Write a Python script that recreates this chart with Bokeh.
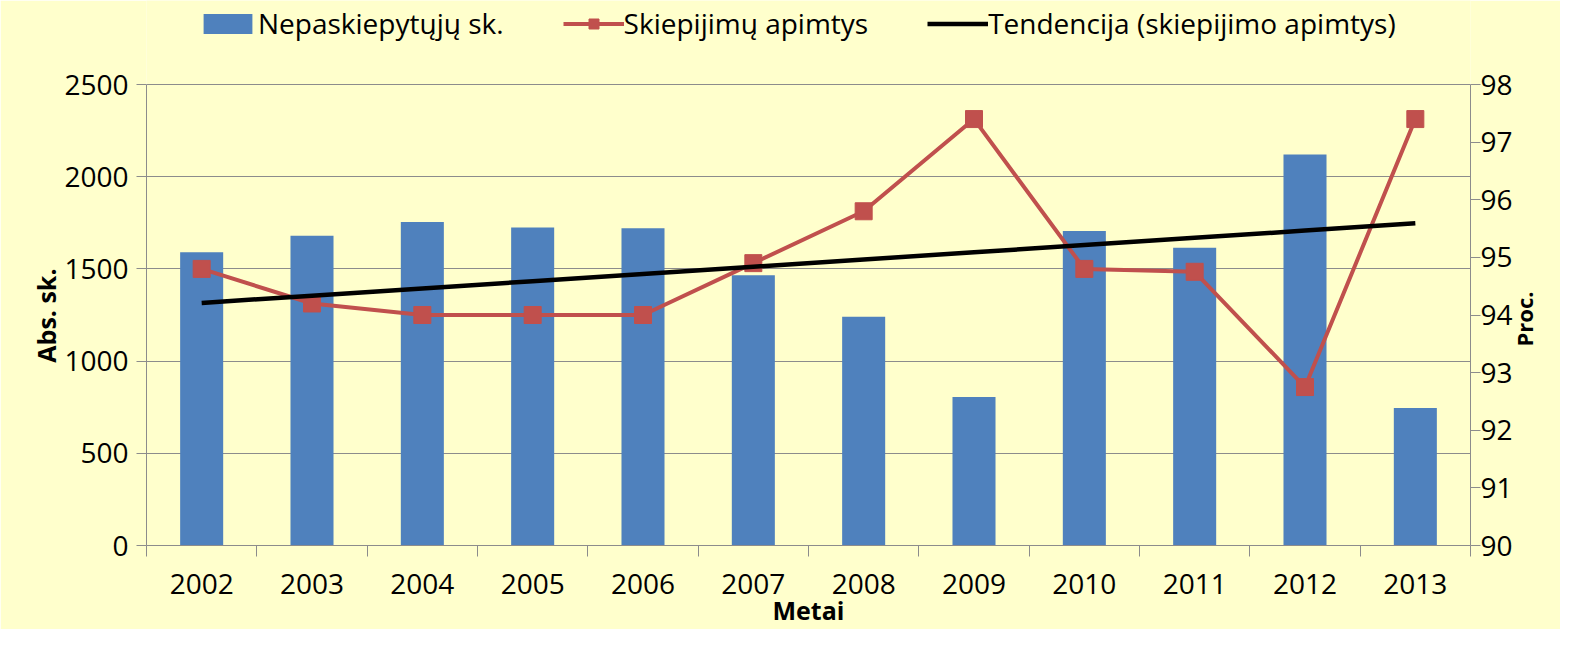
import math
import numpy as np
from bokeh.plotting import figure
from bokeh.models import Range1d, LinearAxis, FixedTicker, Legend, LegendItem
from bokeh.embed import file_html
from bokeh.resources import INLINE

# ---- data ----
years = [2002, 2003, 2004, 2005, 2006, 2007, 2008, 2009, 2010, 2011, 2012, 2013]
unvaccinated = [1590, 1680, 1755, 1725, 1720, 1465, 1240, 805, 1705, 1615, 2120, 745]
coverage = [94.8, 94.2, 94.0, 94.0, 94.0, 94.9, 95.8, 97.4, 94.8, 94.75, 92.75, 97.4]
year_labels = [str(y) for y in years]
left_ticks = [0, 500, 1000, 1500, 2000, 2500]
right_ticks = [90, 91, 92, 93, 94, 95, 96, 97, 98]

series_names = ["Nepaskiepytųjų sk.", "Skiepijimų apimtys", "Tendencija (skiepijimo apimtys)"]
x_title = "Metai"
left_title = "Abs. sk."
right_title = "Proc."

# linear trend of coverage (as the spreadsheet trendline)
coef = np.polyfit(years, coverage, 1)
trend = np.polyval(coef, years)

BG = "#FFFFCC"
GRID = "#8C8C8C"
FONT = "Open Sans"

# ---- layout (pixels) ----
W, H = 1560, 629
B_LEFT, B_RIGHT, B_BOTTOM = 146, 90, 84
FRAME_W = W - B_LEFT - B_RIGHT
FRAME_H = H - B_BOTTOM
TOP_GAP = 84                      # band above the value axes that holds the legend
ext = FRAME_H / (FRAME_H - TOP_GAP)

lmin, lmax = left_ticks[0], left_ticks[-1]
rmin, rmax = right_ticks[0], right_ticks[-1]
x0, x1 = years[0] - 0.5, years[-1] + 0.5
y_end = lmin + (lmax - lmin) * ext
r_end = rmin + (rmax - rmin) * ext

px_l = FRAME_H / (y_end - lmin)   # pixels per left unit
px_r = FRAME_H / (r_end - rmin)   # pixels per right unit

# anchors of the rotated side titles (screen px from the top of the figure)
LEFT_TITLE_Y = 268
RIGHT_TITLE_Y = 346

p = figure(width=W, height=H, output_backend="svg", toolbar_location=None,
           x_range=Range1d(x0, x1), y_range=Range1d(lmin, y_end),
           background_fill_color=BG, border_fill_color=BG, outline_line_color=None,
           min_border_left=B_LEFT, min_border_right=B_RIGHT, min_border_top=0,
           min_border_bottom=B_BOTTOM)
p.extra_y_ranges = {"pct": Range1d(rmin, r_end)}

p.xgrid.grid_line_color = None
p.ygrid.grid_line_color = GRID
p.ygrid.grid_line_width = 1

bars = p.vbar(x=years, top=unvaccinated, width=0.39, fill_color="#4F81BD", line_color=None)
ln = p.line(years, coverage, y_range_name="pct", line_color="#C0504D", line_width=4)
sq = p.scatter(years, coverage, y_range_name="pct", marker="square", size=17,
               fill_color="#C0504D", line_color="#C0504D")
tr = p.line(years, trend, y_range_name="pct", line_color="black", line_width=4.5)

# x axis
xa = p.xaxis[0]
xa.ticker = FixedTicker(ticks=years, minor_ticks=[y - 0.5 for y in years] + [years[-1] + 0.5])
xa.major_label_overrides = {y: l for y, l in zip(years, year_labels)}
xa.major_tick_out = 0
xa.major_tick_in = 0
xa.minor_tick_out = 11
xa.minor_tick_in = 0
xa.minor_tick_line_color = GRID
xa.axis_line_color = GRID
xa.major_label_text_font = FONT
xa.major_label_text_font_size = "28px"
xa.major_label_text_color = "black"
xa.major_label_standoff = 17
xa.axis_label = x_title
xa.axis_label_text_font = FONT
xa.axis_label_text_font_style = "bold"
xa.axis_label_text_font_size = "25px"
xa.axis_label_text_color = "black"
xa.axis_label_standoff = -4


def style_value_axis(ax, standoff):
    ax.major_tick_out = 10
    ax.major_tick_in = 0
    ax.minor_tick_out = 0
    ax.minor_tick_in = 0
    ax.major_tick_line_color = GRID
    ax.axis_line_color = GRID
    ax.major_label_text_font = FONT
    ax.major_label_text_font_size = "28px"
    ax.major_label_text_color = "black"
    ax.major_label_standoff = standoff


def title_axis(at, text, standoff, size, range_name=None):
    kw = {"y_range_name": range_name} if range_name else {}
    ax = LinearAxis(ticker=FixedTicker(ticks=[at]), **kw)
    ax.major_label_overrides = {at: text}
    ax.major_label_orientation = math.pi / 2
    ax.axis_line_color = None
    ax.major_tick_line_color = None
    ax.minor_tick_line_color = None
    ax.major_tick_out = 0
    ax.major_tick_in = 0
    ax.major_label_text_font = FONT
    ax.major_label_text_font_style = "bold"
    ax.major_label_text_font_size = size
    ax.major_label_text_color = "black"
    ax.major_label_standoff = standoff
    return ax


# left value axis + title
ya = p.yaxis[0]
ya.ticker = FixedTicker(ticks=left_ticks)
ya.bounds = (lmin, lmax)
style_value_axis(ya, 8)
p.add_layout(title_axis(lmin + (FRAME_H - LEFT_TITLE_Y) / px_l, left_title, 16, "25px"), "left")

# right value axis + title
ra = LinearAxis(y_range_name="pct", ticker=FixedTicker(ticks=right_ticks), bounds=(rmin, rmax))
style_value_axis(ra, 0)
p.add_layout(ra, "right")
p.add_layout(title_axis(rmin + (FRAME_H - RIGHT_TITLE_Y) / px_r, right_title, 8, "22px", "pct"),
             "right")

legend = Legend(items=[
    LegendItem(label=series_names[0], renderers=[bars]),
    LegendItem(label=series_names[1], renderers=[ln, sq]),
    LegendItem(label=series_names[2], renderers=[tr]),
], orientation="horizontal", location=(51, FRAME_H - 42))
legend.background_fill_alpha = 0
legend.border_line_color = None
legend.label_text_font = FONT
legend.label_text_font_size = "28px"
legend.label_text_color = "black"
legend.glyph_width = 61
legend.glyph_height = 25
legend.label_standoff = 0
legend.spacing = 59
legend.padding = 0
legend.margin = 0
p.add_layout(legend)

open("out.html", "w").write(file_html(p, INLINE))
